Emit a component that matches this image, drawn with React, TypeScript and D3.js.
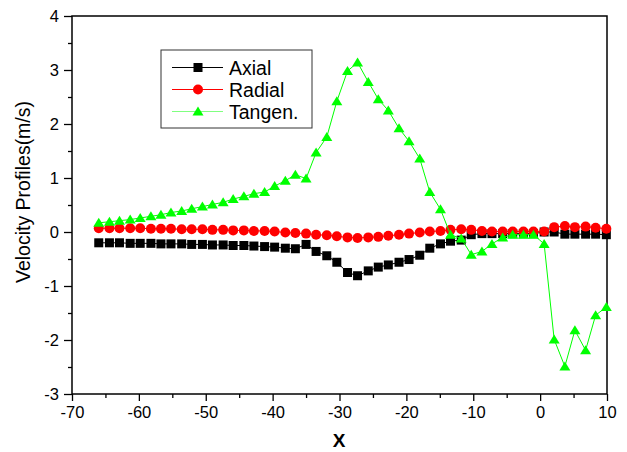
import * as d3 from 'd3';
import React, { useEffect, useRef } from 'react';

// x positions, shared by all three series
const xs = [
  -66.0, -64.4, -62.9, -61.3, -59.8, -58.2, -56.7, -55.2, -53.6, -52.1,
  -50.5, -49.0, -47.4, -45.9, -44.3, -42.8, -41.2, -39.7, -38.1, -36.6,
  -35.0, -33.5, -31.9, -30.4, -28.8, -27.3, -25.7, -24.2, -22.7, -21.1,
  -19.6, -18.0, -16.5, -14.9, -13.4, -11.8, -10.3, -8.7, -7.2, -5.6,
  -4.1, -2.5, -1.0, 0.6, 2.1, 3.7, 5.2, 6.8, 8.3, 9.9,
];

const axial = [
  -0.20, -0.20, -0.20, -0.21, -0.21, -0.21, -0.22, -0.22, -0.22, -0.23,
  -0.23, -0.24, -0.24, -0.25, -0.25, -0.26, -0.27, -0.28, -0.30, -0.31,
  -0.23, -0.36, -0.44, -0.56, -0.75, -0.81, -0.72, -0.65, -0.61, -0.56,
  -0.51, -0.43, -0.30, -0.22, -0.17, -0.15, -0.05, -0.03, -0.03, -0.03,
  -0.03, -0.03, -0.03, 0.00, 0.00, -0.04, -0.04, -0.04, -0.04, -0.05,
];

const radial = [
  0.07, 0.07, 0.07, 0.07, 0.07, 0.06, 0.06, 0.06, 0.05, 0.05,
  0.05, 0.04, 0.04, 0.03, 0.03, 0.02, 0.02, 0.01, -0.01, -0.02,
  -0.03, -0.05, -0.06, -0.08, -0.10, -0.11, -0.10, -0.09, -0.07, -0.05,
  -0.03, -0.01, 0.01, 0.02, 0.04, 0.05, 0.04, 0.02, 0.01, 0.01,
  0.01, 0.01, 0.01, 0.01, 0.09, 0.11, 0.09, 0.10, 0.08, 0.06,
];

const tangen = [
  0.17, 0.19, 0.21, 0.23, 0.26, 0.29, 0.32, 0.36, 0.39, 0.43,
  0.47, 0.51, 0.55, 0.61, 0.66, 0.71, 0.74, 0.85, 0.95, 1.06,
  0.99, 1.47, 1.76, 2.42, 2.98, 3.14, 2.78, 2.46, 2.25, 1.92,
  1.68, 1.36, 0.74, 0.42, -0.05, -0.12, -0.42, -0.36, -0.22, -0.10,
  -0.05, -0.05, -0.05, -0.22, -1.99, -2.49, -1.82, -2.19, -1.54, -1.39,
];

const seriesNames = ['Axial', 'Radial', 'Tangen.'];
const xTicks = [-70, -60, -50, -40, -30, -20, -10, 0, 10];
const yTicks = [-3, -2, -1, 0, 1, 2, 3, 4];

const FONT = 'Arial, "Liberation Sans", sans-serif';

type Shape = 'square' | 'circle' | 'triangle';

const drawMarker = (g: any, shape: Shape, cx: number, cy: number, color: string) => {
  if (shape === 'square') {
    g.append('rect')
      .attr('x', cx - 4.5).attr('y', cy - 4.5)
      .attr('width', 9).attr('height', 9)
      .attr('fill', color);
  } else if (shape === 'circle') {
    g.append('circle').attr('cx', cx).attr('cy', cy).attr('r', 5).attr('fill', color);
  } else {
    g.append('path')
      .attr('d', `M${cx},${cy - 5}L${cx + 5.5},${cy + 4}L${cx - 5.5},${cy + 4}Z`)
      .attr('fill', color);
  }
};

const App: React.FC = () => {
  const svgRef = useRef<SVGSVGElement>(null);

  useEffect(() => {
    if (!svgRef.current) return;
    const svg = d3.select(svgRef.current);
    svg.selectAll('*').remove();

    const left = 72, right = 607, top = 16, bottom = 394;

    const x = d3.scaleLinear().domain([-70, 10]).range([left, right]);
    const y = d3.scaleLinear().domain([-3, 4]).range([bottom, top]);

    // minor ticks
    svg.append('g')
      .attr('transform', `translate(0,${bottom})`)
      .call(d3.axisBottom(x).tickValues(d3.range(-65, 10, 10)).tickSize(4).tickFormat(() => ''))
      .call((g: any) => g.select('.domain').remove());
    svg.append('g')
      .attr('transform', `translate(${left},0)`)
      .call(d3.axisLeft(y).tickValues(d3.range(-2.5, 4, 1)).tickSize(4).tickFormat(() => ''))
      .call((g: any) => g.select('.domain').remove());

    // major ticks + labels
    svg.append('g')
      .attr('transform', `translate(0,${bottom})`)
      .call(d3.axisBottom(x).tickValues(xTicks).tickSize(7).tickPadding(5).tickFormat((d: any) => String(d)))
      .call((g: any) => g.select('.domain').remove())
      .call((g: any) => g.selectAll('text').attr('font-size', 16.5).attr('font-family', FONT).attr('fill', '#000'));
    svg.append('g')
      .attr('transform', `translate(${left},0)`)
      .call(d3.axisLeft(y).tickValues(yTicks).tickSize(8).tickPadding(5).tickFormat((d: any) => String(d)))
      .call((g: any) => g.select('.domain').remove())
      .call((g: any) => g.selectAll('text').attr('font-size', 16.5).attr('font-family', FONT).attr('fill', '#000'));

    svg.selectAll('.tick line').attr('stroke', '#000').attr('stroke-width', 1.3);

    // frame
    svg.append('rect')
      .attr('x', left).attr('y', top)
      .attr('width', right - left).attr('height', bottom - top)
      .attr('fill', 'none').attr('stroke', '#000').attr('stroke-width', 1.5);

    const series: { vals: number[]; color: string; lineColor: string; shape: Shape }[] = [
      { vals: axial, color: '#000000', lineColor: '#000000', shape: 'square' },
      { vals: radial, color: '#ff0000', lineColor: '#ff0000', shape: 'circle' },
      { vals: tangen, color: '#00ff00', lineColor: '#00ff00', shape: 'triangle' },
    ];

    const line = d3.line<number>()
      .x((_, i) => x(xs[i]))
      .y(d => y(d));

    series.forEach(s => {
      const g = svg.append('g');
      g.append('path')
        .datum(s.vals)
        .attr('fill', 'none')
        .attr('stroke', s.lineColor)
        .attr('stroke-width', 1)
        .attr('d', line);
      s.vals.forEach((v, i) => drawMarker(g, s.shape, x(xs[i]), y(v), s.color));
    });

    // legend
    const lg = svg.append('g');
    lg.append('rect')
      .attr('x', 161).attr('y', 50).attr('width', 151).attr('height', 78)
      .attr('fill', '#fff').attr('stroke', '#333').attr('stroke-width', 1);
    const legendLine = ['#000000', '#ff0000', '#80ff80'];
    seriesNames.forEach((name, i) => {
      const ly = 67.5 + i * 22;
      lg.append('line')
        .attr('x1', 172).attr('x2', 223).attr('y1', ly).attr('y2', ly)
        .attr('stroke', legendLine[i]).attr('stroke-width', 1);
      drawMarker(lg, series[i].shape, 198, ly, series[i].color);
      lg.append('text')
        .attr('x', 229).attr('y', ly + 7)
        .attr('font-family', FONT).attr('font-size', 19.5)
        .text(name);
    });

    // axis titles
    svg.append('text')
      .attr('x', 339).attr('y', 447)
      .attr('text-anchor', 'middle')
      .attr('font-family', FONT).attr('font-size', 19).attr('font-weight', 'bold')
      .text('X');
    svg.append('text')
      .attr('transform', 'translate(30,192) rotate(-90)')
      .attr('text-anchor', 'middle')
      .attr('font-family', FONT).attr('font-size', 19.5)
      .text('Velocity Profiles(m/s)');
  }, []);

  return (
    <svg
      ref={svgRef}
      width={627}
      height={452}
      style={{ position: 'absolute', left: 0, top: 0, background: '#fff' }}
    />
  );
};

export default App;
